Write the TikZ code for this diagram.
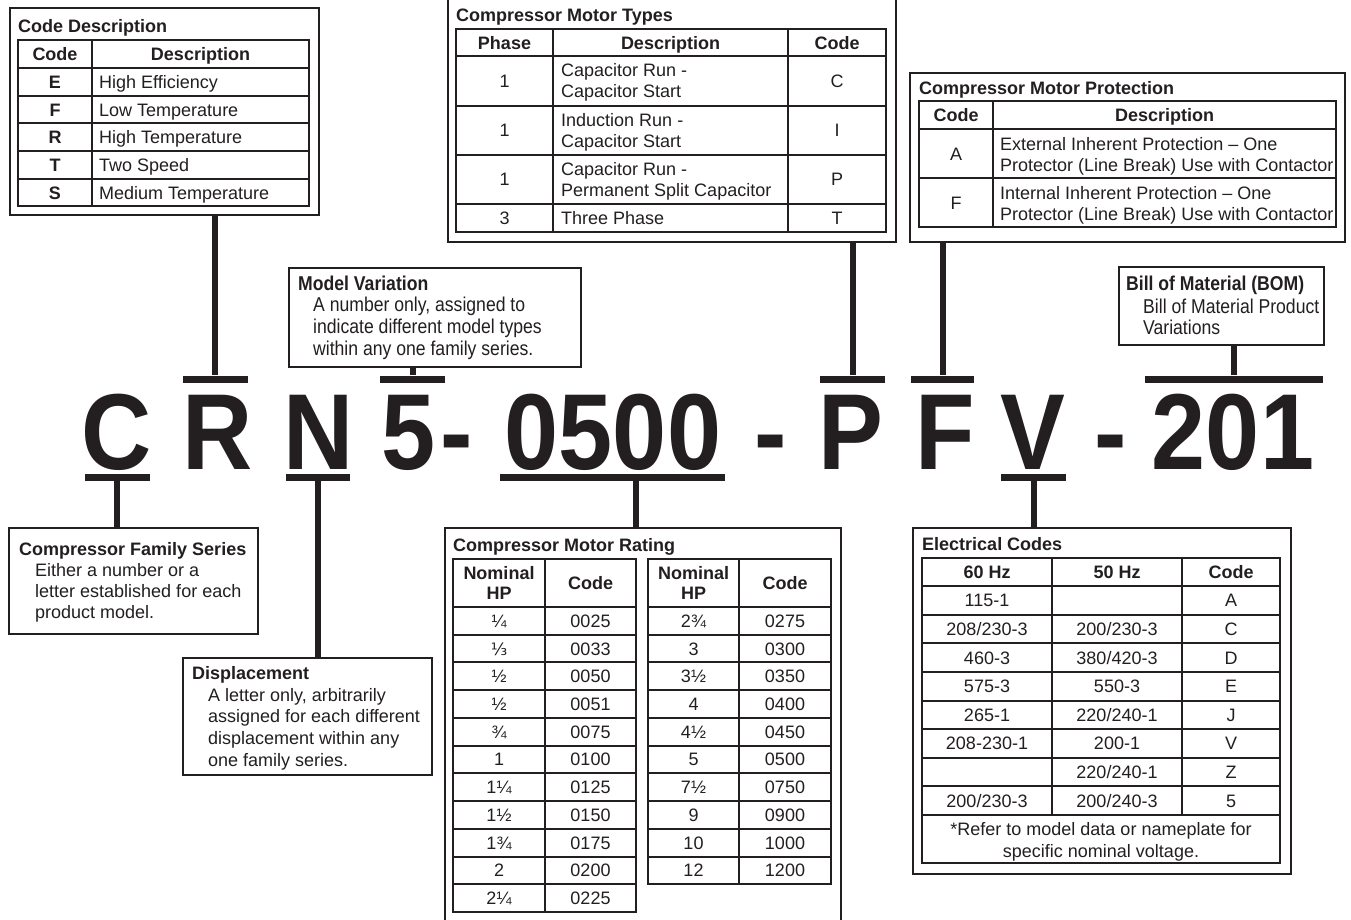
\documentclass[tikz,border=0pt]{standalone}
\usepackage{fontspec}
\setmainfont{Liberation Sans}
\newfontfamily\narrowfam[FakeStretch=0.88]{Liberation Sans}
\newfontfamily\bigfam[FakeStretch=0.9]{Liberation Sans}
\newfontfamily\dvs{DejaVu Sans}
\definecolor{ink}{RGB}{35,31,32}
\newcommand\tabfont{\fontsize{18}{21}\selectfont}
\newcommand\narrowtext{\narrowfam\fontsize{20}{22}\selectfont}
\newcommand\bigtext{\bigfam\bfseries\fontsize{108}{108}\selectfont}
\tikzset{
 box/.style={draw=ink,line width=1.6,fill=white,inner sep=0,anchor=north west},
 grid/.style={draw=ink,line width=2},
 cell/.style={font=\tabfont,text=ink,inner sep=0,text height=12.9,text depth=0},
 cellb/.style={cell,font=\tabfont\bfseries},
 ntext/.style={font=\narrowtext,text=ink,inner sep=0,text height=14.3,text depth=0,anchor=west},
 ntitle/.style={ntext,font=\narrowtext\bfseries},
 big/.style={font=\bigtext,text=ink,inner sep=0,anchor=base},
 bar/.style={fill=ink,inner sep=0,minimum height=7},
 conn/.style={draw=ink,line width=6},
}
\begin{document}
\begin{tikzpicture}[x=1pt,y=-1pt]
\useasboundingbox (0,0) rectangle (1351,920);
\clip (0,0) rectangle (1351,920);
\fill[white] (0,0) rectangle (1351,920);

% ---------- boxes ----------
\node[box,minimum width=309,minimum height=207] (cd) at (9,7) {};
\node[box,minimum width=448,minimum height=245] (mt) at (447,-4) {};
\node[box,minimum width=435,minimum height=169] (mp) at (909,72) {};
\node[box,minimum width=292,minimum height=99] (mv) at (288,267) {};
\node[box,minimum width=205,minimum height=78] (bom) at (1118,266) {};
\node[box,minimum width=249,minimum height=106] (fam) at (8,527) {};
\node[box,minimum width=249,minimum height=117] (disp) at (182,657) {};
\node[box,minimum width=396,minimum height=400] (rat) at (444,527) {};
\node[box,minimum width=378,minimum height=346] (ele) at (912,527) {};

% ---------- big model number ----------
\node[big] (lC) at (116.5,469) {C};
\node[big] (lR) at (218,469) {R};
\node[big] (lN) at (318.5,469) {N};
\node[big] (l5) at (409,469) {5};
\node[big] (d1) at (457,469) {-};
\node[big] (l0500) at (613,469) {0500};
\node[big] (d2) at (771,469) {-};
\node[big] (lP) at (851,469) {P};
\node[big] (lF) at (945,469) {F};
\node[big] (lV) at (1033,469) {V};
\node[big] (d3) at (1111,469) {-};
\node[big] (l201) at (1233,469) {201};

% bars
\node[bar,minimum width=65] (bC) at (117,477) {};
\node[bar,minimum width=65] (bR) at (215.5,379) {};
\node[bar,minimum width=64] (bN) at (318,477) {};
\node[bar,minimum width=65] (b5) at (412.5,379) {};
\node[bar,minimum width=225] (b0500) at (612.5,477) {};
\node[bar,minimum width=65] (bP) at (852.5,379) {};
\node[bar,minimum width=63] (bF) at (942.5,379) {};
\node[bar,minimum width=65] (bV) at (1033.5,477) {};
\node[bar,minimum width=178] (b201) at (1234,379) {};

% connectors
\draw[conn] (bC.south) -- (bC.south |- fam.north);
\draw[conn] ([xshift=-1]bR.north) -- ([xshift=-1]bR.north |- cd.south);
\draw[conn] (bN.south) -- (bN.south |- disp.north);
\draw[conn] (b5.north) -- (b5.north |- mv.south);
\draw[conn] ([xshift=23.5]b0500.south) -- ([xshift=23.5]b0500.south |- rat.north);
\draw[conn] (bP.north) -- (bP.north |- mt.south);
\draw[conn] (bF.north) -- (bF.north |- mp.south);
\draw[conn] (bV.south) -- (bV.south |- ele.north);
\draw[conn] (b201.north) -- (b201.north |- bom.south);

% ---------- Code Description ----------
\node[cellb,anchor=west] (cdt) at (18,26) {Code Description};
\draw[grid] (18,40) rectangle (309,206) (92,40) -- (92,206);
\foreach \y in {68,96,123,151,179} \draw[grid] (18,\y) -- (309,\y);
\node[cellb] (cdh1) at (55,54) {Code};
\node[cellb] (cdh2) at (200.5,54) {Description};
\foreach \y/\c/\d [count=\i] in {82/E/High Efficiency,110/F/Low Temperature,137/R/High Temperature,165/T/Two Speed,193/S/Medium Temperature}{
  \node[cellb] (cdc\i) at (55,\y) {\c};
  \node[cell,anchor=west] (cdd\i) at (99,\y) {\d};
}

% ---------- Compressor Motor Types ----------
\node[cellb,anchor=west] (mtt) at (456,15) {Compressor Motor Types};
\draw[grid] (456,29) rectangle (886,232) (553,29) -- (553,232) (788,29) -- (788,232);
\foreach \y in {56,106,155,204} \draw[grid] (456,\y) -- (886,\y);
\node[cellb] (mth1) at (504.5,43) {Phase};
\node[cellb] (mth2) at (670.5,43) {Description};
\node[cellb] (mth3) at (837,43) {Code};
\foreach \y/\p/\a/\b/\c [count=\i] in {81/1/Capacitor Run -/Capacitor Start/C,130.5/1/Induction Run -/Capacitor Start/I,179.5/1/Capacitor Run -/Permanent Split Capacitor/P}{
  \node[cell] (mtp\i) at (504.5,\y) {\p};
  \node[cell,anchor=west] (mta\i) at (561,\y-10.5) {\a};
  \node[cell,anchor=west] (mtb\i) at (561,\y+10.5) {\b};
  \node[cell] (mtc\i) at (837,\y) {\c};
}
\node[cell] (mtp4) at (504.5,218) {3};
\node[cell,anchor=west] (mta4) at (561,218) {Three Phase};
\node[cell] (mtc4) at (837,218) {T};

% ---------- Compressor Motor Protection ----------
\node[cellb,anchor=west] (mpt) at (919,88) {Compressor Motor Protection};
\draw[grid] (919,101) rectangle (1336,227) (993,101) -- (993,227) (919,129) -- (1336,129) (919,178) -- (1336,178);
\node[cellb] (mph1) at (956,115) {Code};
\node[cellb] (mph2) at (1164.5,115) {Description};
\node[cell] (mpc1) at (956,154) {A};
\node[cell,anchor=west] (mpa1) at (1000,144) {External Inherent Protection -- One};
\node[cell,anchor=west] (mpb1) at (1000,165) {Protector (Line Break) Use with Contactor};
\node[cell] (mpc2) at (956,203) {F};
\node[cell,anchor=west] (mpa2) at (1000,193) {Internal Inherent Protection -- One};
\node[cell,anchor=west] (mpb2) at (1000,214) {Protector (Line Break) Use with Contactor};

% ---------- Model Variation ----------
\node[ntitle] (mvt) at (298,283) {Model Variation};
\node[ntext] (mv1) at (313,304) {A number only, assigned to};
\node[ntext] (mv2) at (313,326) {indicate different model types};
\node[ntext] (mv3) at (313,348) {within any one family series.};

% ---------- BOM ----------
\node[ntitle] (bomt) at (1126,283) {Bill of Material (BOM)};
\node[ntext] (bom1) at (1143,306) {Bill of Material Product};
\node[ntext] (bom2) at (1143,327) {Variations};

% ---------- Family series ----------
\node[cellb,anchor=west] (famt) at (19,549) {Compressor Family Series};
\node[cell,anchor=west] (fam1) at (35,570) {Either a number or a};
\node[cell,anchor=west] (fam2) at (35,591) {letter established for each};
\node[cell,anchor=west] (fam3) at (35,612) {product model.};

% ---------- Displacement ----------
\node[cellb,anchor=west] (dispt) at (192,673) {Displacement};
\node[cell,anchor=west] (disp1) at (208,695) {A letter only, arbitrarily};
\node[cell,anchor=west] (disp2) at (208,716) {assigned for each different};
\node[cell,anchor=west] (disp3) at (208,738) {displacement within any};
\node[cell,anchor=west] (disp4) at (208,760) {one family series.};

% ---------- Compressor Motor Rating ----------
\node[cellb,anchor=west] (ratt) at (453,545) {Compressor Motor Rating};
\draw[grid] (453,559) rectangle (636,912) (545,559) -- (545,912);
\draw[grid] (648,559) rectangle (831,884.3) (739,559) -- (739,884.3);
\foreach \k in {0,...,10}{
  \pgfmathsetmacro\yy{607+27.73*\k}
  \draw[grid] (453,\yy) -- (636,\yy);
}
\foreach \k in {0,...,9}{
  \pgfmathsetmacro\yy{607+27.73*\k}
  \draw[grid] (648,\yy) -- (831,\yy);
}
\node[cellb] (rh1a) at (499,573) {Nominal};
\node[cellb] (rh1b) at (499,593) {HP};
\node[cellb] (rh2) at (590.5,583) {Code};
\node[cellb] (rh3a) at (693.5,573) {Nominal};
\node[cellb] (rh3b) at (693.5,593) {HP};
\node[cellb] (rh4) at (785,583) {Code};
\foreach \h/\c [count=\i from 0] in {¼/0025,{{\dvs\fontsize{17}{20}\selectfont ⅓}}/0033,½/0050,½/0051,¾/0075,1/0100,1¼/0125,1½/0150,1¾/0175,2/0200,2¼/0225}{
  \pgfmathsetmacro\yy{607+27.73*(\i+0.5)}
  \node[cell] (rl\i) at (499,\yy) {\h};
  \node[cell] (rc\i) at (590.5,\yy) {\c};
}
\foreach \h/\c [count=\i from 0] in {2¾/0275,3/0300,3½/0350,4/0400,4½/0450,5/0500,7½/0750,9/0900,10/1000,12/1200}{
  \pgfmathsetmacro\yy{607+27.73*(\i+0.5)}
  \node[cell] (rr\i) at (693.5,\yy) {\h};
  \node[cell] (rs\i) at (785,\yy) {\c};
}

% ---------- Electrical Codes ----------
\node[cellb,anchor=west] (elet) at (922,544) {Electrical Codes};
\draw[grid] (922,558) rectangle (1280,863) (1052,558) -- (1052,815) (1182,558) -- (1182,815);
\draw[grid] (922,586) -- (1280,586);
\foreach \k in {1,...,8}{
  \pgfmathsetmacro\yy{586+28.625*\k}
  \draw[grid] (922,\yy) -- (1280,\yy);
}
\node[cellb] (eh1) at (987,572) {60 Hz};
\node[cellb] (eh2) at (1117,572) {50 Hz};
\node[cellb] (eh3) at (1231,572) {Code};
\foreach \a/\b/\c [count=\i from 0] in {{115-1}/{}/A,{208/230-3}/{200/230-3}/C,{460-3}/{380/420-3}/D,{575-3}/{550-3}/E,{265-1}/{220/240-1}/J,{208-230-1}/{200-1}/V,{}/{220/240-1}/Z,{200/230-3}/{200/240-3}/5}{
  \pgfmathsetmacro\yy{586+28.625*(\i+0.5)}
  \node[cell] (ea\i) at (987,\yy) {\a};
  \node[cell] (eb\i) at (1117,\yy) {\b};
  \node[cell] (ec\i) at (1231,\yy) {\c};
}
\node[cell] (en1) at (1101,829) {*Refer to model data or nameplate for};
\node[cell] (en2) at (1101,851) {specific nominal voltage.};
\end{tikzpicture}
\end{document}
